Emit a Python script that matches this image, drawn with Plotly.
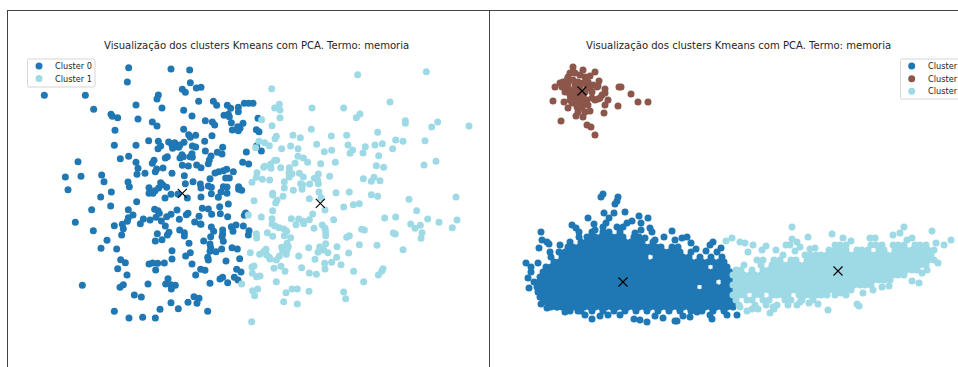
import plotly.graph_objects as go

TITLE = "Visualização dos clusters Kmeans com PCA. Termo: memoria"
COLORS = {"blue": "#1f77b4", "brown": "#8c564b", "light": "#9edae5"}

# ---- left panel values (PCA plane, arbitrary units)
LEFT_C0 = [(133,286),(256,286),(281,328),(386,203),(382,246),(513,207),(569,210),(571,248),(547,268),(556,277),(589,264),(603,262),(475,285),(471,297),(596,304),(408,315),(486,324),(551,331),(333,343),(337,349),(353,353),(414,357),(576,348),(640,304),(650,316),(682,316),(692,325),(715,322),(715,335),(733,310),(746,310),(759,310),(672,346),(685,343),(688,350),(616,362),(457,366),(471,378),(637,366),(644,375),(694,368),(729,370),(713,380),(720,385),(697,390),(715,392),(551,388),(345,391),(566,404),(571,412),(587,406),(636,407),(614,424),(446,422),(475,424),(506,426),(524,428),(343,436),(408,436),(482,438),(474,446),(516,436),(518,445),(540,435),(552,427),(536,442),(577,438),(587,441),(668,442),(616,453),(652,457),(666,462),(739,456),(784,453),(774,355),(769,389),(777,395),(770,438),(386,469),(361,476),(502,470),(496,474),(546,464),(550,470),(540,474),(576,461),(570,470),(577,472),(633,468),(628,480),(625,491),(408,487),(462,481),(457,490),(234,485),(547,496),(565,498),(590,495),(603,503),(728,487),(746,492),(414,505),(470,507),(466,515),(489,504),(411,523),(435,520),(516,520),(553,527),(680,508),(670,512),(656,515),(645,519),(700,515),(630,536),(677,534),(688,534),(196,531),(243,529),(305,525),
(204,569),(312,545),(384,546),(388,560),(447,563),(447,580),(459,580),(465,572),(476,564),(482,548),(488,554),(500,562),(495,594),(513,583),(534,582),(556,551),(579,545),(601,552),(603,564),(603,591),(562,594),(625,558),(634,562),(634,581),(663,576),(655,592),(670,560),(681,561),(681,580),(716,560),(716,568),(725,571),(302,591),(334,576),(332,618),(410,605),(275,629),(385,629),(464,628),(474,632),(478,640),(531,630),(607,625),(625,627),(659,620),(685,612),(399,645),(385,653),(382,664),(430,657),(450,660),(468,652),(484,663),(500,650),(513,643),(564,640),(559,644),(597,649),(635,643),(661,641),(683,650),(733,646),(737,639),(226,667),(343,677),(367,673),(370,686),(421,671),(496,678),(538,658),(584,666),(601,672),(603,673),(634,681),(641,694),(668,690),(668,702),(694,680),(708,675),(699,694),(730,678),(747,692),(745,705),(280,692),(365,705),(472,701),(507,697),(502,705),(539,690),(553,698),(553,708),(632,710),(666,710),(321,721),(466,723),(486,719),(611,723),(670,724),(567,730),(630,732),(303,745),(350,747),(632,743),(630,754),(648,755),(665,747),(696,743),(712,747),(516,752),(571,758),(557,768),(362,779),(376,788),(447,792),(458,789),(473,790),(493,789),(516,777),(623,772),(625,780),(678,783),(719,776),(576,792),(353,806),(467,810),(602,808),(615,811),(710,808),(723,816),(381,825),(587,825),(247,856),(360,862),(370,854),(444,852),(504,836),(497,852),(513,854),(526,856),(514,867),(630,850),(660,837),(668,832),(683,848),(703,832),(714,840),(403,885),(424,891),(582,890),(597,895),(591,910),(513,908),(564,907),(480,928),(535,926),(343,934),(623,934),(387,954),(428,952),(466,954)]

LEFT_C1 = [(815,266),(1073,224),(1279,215),(838,313),(824,324),(840,330),(936,324),(1031,324),(1170,306),(1080,342),(1069,353),(840,353),(785,359),(1216,362),(1216,370),(1313,366),(1295,381),(1407,378),(816,377),(934,388),(1133,397),(829,409),(825,416),(879,406),(901,413),(994,408),(1040,406),(777,424),(794,428),(808,437),(767,443),(872,438),(845,446),(894,446),(950,433),(1044,435),(1096,440),(1125,435),(1147,431),(1187,420),(1209,424),(1275,422),(1178,446),(973,455),(995,451),(1058,450),(1050,460),(1089,459),(1136,467),(894,469),(910,474),(824,481),(830,481),(923,487),(1006,487),(962,491),(885,490),(812,492),(794,499),(791,502),(813,505),(842,503),(868,503),(868,512),(1129,497),(1151,502),(1272,495),(1308,484),(771,518),(867,520),(876,521),(898,520),(868,531),(910,531),(955,522),(989,529),(769,532),(787,538),(809,540),(756,547),(853,545),(943,535),(953,541),(955,551),(1090,536),(1122,532),(1114,544),(1140,542),(929,552),(902,551),(908,554),(853,564),(906,568),(880,571),(957,576),(818,580),(1008,578),(1048,576),(1114,584),
(762,602),(818,585),(827,609),(831,601),(849,589),(928,596),(963,593),(975,630),(1031,621),(1060,614),(1078,611),(1133,589),(1227,598),(1368,591),(1250,632),(818,632),(938,642),(745,645),(784,651),(816,656),(874,656),(896,657),(928,659),(910,664),(911,671),(888,674),(1001,659),(1154,654),(1187,651),(1283,657),(1317,667),(1371,660),(816,672),(825,678),(837,683),(852,687),(860,694),(967,675),(975,685),(977,695),(942,685),(1232,672),(1261,676),(1245,685),(1357,683),(1085,688),(1093,690),(802,698),(769,701),(770,714),(818,709),(853,707),(872,713),(977,707),(1048,707),(1040,712),(1180,699),(1186,702),(1266,698),(1263,715),(861,730),(845,742),(865,740),(977,731),(926,743),(959,741),(971,750),(1011,740),(1078,734),(1131,736),(1209,749),(798,748),(792,754),(848,753),(861,750),(751,758),(779,763),(800,765),(808,772),(810,777),(838,769),(829,780),(859,763),(896,768),(954,757),(984,758),(1046,759),(945,778),(1010,772),(974,790),(995,787),(1023,794),(756,801),(762,798),(843,799),(822,805),(905,803),(975,807),(855,814),(757,820),(928,819),(949,823),(1061,814),(1149,806),(1145,814),(1135,825),(770,830),(780,828),(829,845),(1091,845),(725,852),(758,872),(773,867),(876,867),(892,867),(927,874),(858,878),(764,887),(1031,876),(1037,896),(851,905),(892,912),(755,965)]

LEFT_CENTROIDS = [(547,580),(961,610)]

# ---- right panel values
RIGHT_C0_SPARSE = [(603,194),(601,197),(618,197),(617,201),(615,204),(604,213),(614,213),(625,212),(588,218),(639,216),(648,218),(641,223),(641,230),(632,221),(627,223),(623,227),(609,218),(606,223),(594,224),(572,225),(576,228),(579,232),(541,232),(542,240),(547,242),(549,244),(539,248),(550,252),(560,245),(526,263),(531,267),(531,272),(528,278),(534,282),(529,288),(537,287),(538,263),(672,231),(650,228),(652,232),(664,237),(687,237),(682,238),(691,243),(696,249),(706,251),(713,242),(710,245),(721,248),(717,252),(547,308),(541,304),(557,307),(567,308),(578,311),(592,319),(608,315),(634,319),(640,320),(647,322),(663,318),(675,321),(677,321),(683,316),(710,315),(712,319),(727,315),(737,315),(697,312),(587,237),(595,230),(603,227),(617,227),(635,233),(645,238),(655,240),(675,240),(600,316),(620,315),(655,316),(690,317),(585,315),(565,312)]

RIGHT_C0_DENSE = {
232: [592,603,609,620],
237: [579,590,595,601,606,612,617,623,634,639],
242: [570,581,587,592,598,603,609,614,620,625,631,636,642,653],
247: [568,573,579,584,590,595,601,606,612,617,623,628,634,639,645,650,656,661,672,678],
252: [559,565,570,576,581,587,592,598,603,609,614,620,625,631,636,642,647,653,658,664,669,675,680,691],
257: [551,562,568,573,579,584,590,595,601,606,612,617,623,628,634,639,645,656,661,667,672,678,683,689,700,711,722],
262: [554,559,565,570,576,581,587,592,598,603,609,614,620,625,631,636,642,647,653,658,664,669,675,680,686,691,697,702,708,713,719,724],
267: [546,551,557,562,568,573,579,584,590,595,601,606,612,617,623,628,634,639,645,650,656,661,667,672,678,683,689,694,700,705,716,722,727],
272: [543,548,554,559,565,570,576,581,587,592,598,603,609,614,620,625,631,636,642,647,653,658,664,669,675,680,686,691,697,702,708,713,719,724,730],
277: [540,546,551,557,562,568,573,579,584,590,595,601,606,612,617,623,628,634,639,645,650,656,661,667,672,678,683,689,694,700,705,711,716,722,727,733],
282: [539,543,548,554,559,565,570,576,581,587,592,598,603,609,614,620,625,631,636,642,647,653,658,664,669,675,680,686,691,697,702,708,713,724,730,735],
287: [540,546,551,557,562,568,573,579,584,590,595,601,606,612,617,623,628,634,639,645,650,656,661,667,672,678,683,689,694,705,711,716,722,727,733],
292: [538,543,548,554,559,565,570,576,581,587,592,598,603,609,614,620,625,631,636,642,647,653,658,664,669,675,680,686,691,697,702,708,713,719,724,730,735],
297: [540,546,551,557,562,568,573,579,584,590,595,601,606,612,617,623,628,634,639,645,650,656,661,667,672,678,683,689,694,700,705,711,716,722,727,733],
302: [543,548,554,559,565,570,576,581,587,592,598,603,609,614,620,625,631,636,642,647,653,658,664,669,675,680,686,691,697,702,708,713,719,724,730,735],
307: [551,557,562,568,573,579,584,590,595,601,606,612,617,623,628,634,639,645,650,656,661,667,672,678,683,689,694,700,705,711,716,722,727,733],
311: [570,581,592,603,614,625,636,647,658,669,680,691,702,713,724],
}

RIGHT_C1 = [(573,67),(583,70),(595,72),(599,81),(555,87),(553,101),(619,87),(621,87),(631,94),(638,102),(648,102),(618,106),(604,113),(561,121),(587,125),(591,127),(595,135),(583,117),(576,116),(590,111),(568,108),(564,102),(608,100),(605,89),(605,105),(598,86),(563,82),(568,77),(575,73),(580,75),(585,77),(590,76),(562,87),(565,92),(570,95),(573,98),(578,100),(583,103),(588,105),(592,98),(595,100),(598,99),(602,95),(605,93),(568,83),(573,80),(578,82),(583,83),(588,82),(593,85),(568,88),(575,90),(580,93),(587,88),(592,92),(572,103),(577,107),(582,108),(585,112),(578,112),(573,72),(567,80),(560,83),(597,87),(600,98),(565,87),(570,90),(575,85),(580,87),(585,92),(590,87),(578,95),(583,97),(573,93),(587,100),(570,100),(575,103),(580,105),(585,100),(570,73)]

RIGHT_C2_SPARSE = [(792,227),(904,227),(932,231),(832,234),(808,237),(843,238),(851,241),(726,241),(732,238),(951,240),(944,245),(936,243),(870,238),(875,238),(893,235),(900,233),(907,240),(912,238),(740,242),(745,243),(753,245),(766,246),(786,245),(790,245),(792,239),(797,242),(800,247),(795,251),(776,250),(815,248),(810,249),(762,250),(757,260),(748,252),(938,263),(927,270),(912,281),(919,283),(922,273),(857,304),(859,306),(828,310),(770,313),(773,307),(809,303),(797,305),(800,302),(747,311),(740,307),(818,304),(841,293),(863,293),(873,290),(889,286),(882,287)]

RIGHT_C2_DENSE = {
245: [835,840,846,871,876,882,893,898,904,915,920,926],
250: [829,835,840,846,857,862,868,879,884,895,901,906,912,917,923,928,934],
255: [783,805,810,816,821,827,832,838,843,849,854,860,865,871,876,882,887,893,898,904,909,915,920,926,931],
260: [763,774,780,791,796,807,813,818,824,829,835,840,846,851,857,862,868,873,879,884,890,895,901,906,912,917,923,928,934],
265: [744,761,772,777,783,788,794,799,805,810,816,821,827,832,838,843,849,854,860,865,871,876,882,887,893,898,904,909,915,920,926],
270: [736,741,752,763,769,774,780,785,791,796,802,807,813,818,824,829,835,840,846,851,857,862,868,873,879,884,890,895,901,906,912,917],
275: [733,739,744,750,755,761,766,772,777,783,788,794,799,805,810,816,821,827,832,838,843,849,854,860,865,871,876,882,887,893,898,904],
280: [736,741,747,752,758,763,769,774,780,785,791,796,802,807,813,818,824,829,835,840,846,851,857,862,868,873,879,884,890],
285: [733,739,744,750,755,761,766,772,777,783,788,794,799,805,810,816,821,827,832,838,843,849,854,860,865,871],
290: [736,741,747,752,758,763,769,774,780,785,791,796,802,807,813,818,824,829,835,840,846,851],
295: [733,739,744,755,761,772,777,783,788,799,805,810,816,821,827,835,846],
300: [736,747,752,763,769,785,791,802,813],
305: [739,755,766,777,788],
309: [752,758,774],
}

RIGHT_CENTROIDS = [(582,91),(623,282),(838,271)]

W, H = 958, 367
def px(x): return x / W
def py(y): return 1 - y / H

def unzip(pairs):
    return [p[0] for p in pairs], [p[1] for p in pairs]

def flatten(rows):
    xs, ys = [], []
    for y, row in rows.items():
        for x in row:
            xs.append(x); ys.append(y)
    return xs, ys

DOT = 7
def dots(xy, color, name, xa, ya):
    return go.Scatter(x=xy[0], y=xy[1], mode="markers", name=name, showlegend=False,
                      xaxis=xa, yaxis=ya, hoverinfo="skip",
                      marker=dict(color=color, size=DOT, line=dict(width=0)))

def centroids(xy, xa, ya):
    return go.Scatter(x=xy[0], y=xy[1], mode="markers", showlegend=False, name="Centroides",
                      xaxis=xa, yaxis=ya, hoverinfo="skip",
                      marker=dict(symbol="x-thin", color="black", size=9,
                                  line=dict(color="black", width=1.1)))

fig = go.Figure()
fig.add_trace(dots(unzip(LEFT_C0), COLORS["blue"], "Cluster 0", "x", "y"))
fig.add_trace(dots(unzip(LEFT_C1), COLORS["light"], "Cluster 1", "x", "y"))
fig.add_trace(centroids(unzip(LEFT_CENTROIDS), "x", "y"))

sx, sy = unzip(RIGHT_C0_SPARSE); dx, dy = flatten(RIGHT_C0_DENSE)
fig.add_trace(dots((dx + sx, dy + sy), COLORS["blue"], "Cluster 0", "x2", "y2"))
fig.add_trace(dots(unzip(RIGHT_C1), COLORS["brown"], "Cluster 1", "x2", "y2"))
sx, sy = unzip(RIGHT_C2_SPARSE); dx, dy = flatten(RIGHT_C2_DENSE)
fig.add_trace(dots((dx + sx, dy + sy), COLORS["light"], "Cluster 2", "x2", "y2"))
fig.add_trace(centroids(unzip(RIGHT_CENTROIDS), "x2", "y2"))

def rounded(x0, y0, x1, y1, r=1.5):
    return dict(type="path", xref="paper", yref="paper", layer="above",
                path=(f"M {px(x0+r)} {py(y0)} L {px(x1-r)} {py(y0)} Q {px(x1)} {py(y0)} {px(x1)} {py(y0+r)} "
                      f"L {px(x1)} {py(y1-r)} Q {px(x1)} {py(y1)} {px(x1-r)} {py(y1)} "
                      f"L {px(x0+r)} {py(y1)} Q {px(x0)} {py(y1)} {px(x0)} {py(y1-r)} "
                      f"L {px(x0)} {py(y0+r)} Q {px(x0)} {py(y0)} {px(x0+r)} {py(y0)} Z"),
                fillcolor="rgba(255,255,255,0.8)", line=dict(color="#d6d6d6", width=1))

shapes, annotations = [], []
def key(x, y, color, label, tx):
    r = DOT / 2
    shapes.append(dict(type="circle", xref="paper", yref="paper", layer="above",
                       x0=px(x - r), x1=px(x + r), y0=py(y + r), y1=py(y - r),
                       fillcolor=color, line=dict(width=0)))
    annotations.append(dict(xref="paper", yref="paper", x=px(tx), y=py(y), xanchor="left", yanchor="middle",
                            text=label, showarrow=False, font=dict(size=8.2, color="#262626"),
                            borderpad=0, align="left"))

shapes.append(rounded(27.5, 59, 95, 87))
key(39, 66, COLORS["blue"], "Cluster 0", 53.5)
key(39, 78.5, COLORS["light"], "Cluster 1", 53.5)
shapes.append(rounded(900.5, 59, 975, 99))
key(911.7, 66, COLORS["blue"], "Cluster 0", 926.5)
key(911.7, 78.7, COLORS["brown"], "Cluster 1", 926.5)
key(911.7, 91.3, COLORS["light"], "Cluster 2", 926.5)

for cx in (256.5, 738):
    annotations.append(dict(xref="paper", yref="paper", x=px(cx), y=py(46), xanchor="center", yanchor="middle",
                            text=TITLE, showarrow=False, font=dict(size=10.05, color="#262626")))

axis = dict(showgrid=False, zeroline=False, showticklabels=False, ticks="",
            showline=True, linecolor="#444444", linewidth=1)
fig.update_layout(
    width=W, height=H, autosize=False, showlegend=False,
    margin=dict(l=0, r=0, t=0, b=0, autoexpand=False),
    paper_bgcolor="white", plot_bgcolor="white",
    font=dict(family="DejaVu Sans"),
    xaxis=dict(axis, domain=[8 / W, 490 / W], range=[24, 1470], side="top", anchor="y"),
    yaxis=dict(axis, domain=[0, 1 - 11 / H], range=[1101, 33], anchor="x"),
    xaxis2=dict(axis, domain=[490 / W, 1], range=[490, 958], side="top", anchor="y2"),
    yaxis2=dict(axis, domain=[0, 1 - 11 / H], range=[367, 11], anchor="x2"),
    shapes=shapes, annotations=annotations,
)

fig.write_html("out.html", config=dict(displayModeBar=False),
               post_script="document.body.style.margin='0';document.documentElement.style.overflow='hidden';")
